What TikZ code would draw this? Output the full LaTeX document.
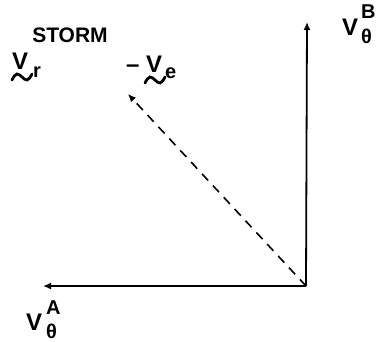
\documentclass[tikz,border=0pt]{standalone}
\usepackage{fontspec}
\setmainfont{Liberation Sans}
\usetikzlibrary{arrows.meta,positioning}
\tikzset{
  vecline/.style={-{Latex[length=8pt,width=7pt]},line width=1.8pt},
  dashline/.style={-{Latex[length=8pt,width=7pt]},line width=1.6pt,dash pattern=on 9pt off 7pt},
  bigtxt/.style={inner sep=0pt,anchor=base west,font=\fontsize{24}{24}\selectfont\bfseries},
  smalltxt/.style={inner sep=0pt,anchor=base west,font=\fontsize{20}{20}\selectfont\bfseries},
  squig/.style={line width=2.8pt,line cap=round},
}
\begin{document}
\begin{tikzpicture}[x=1pt,y=-1pt]
    \useasboundingbox (0,0) rectangle (377,341);
    % Axes
    \coordinate (o) at (306,286);
    \coordinate (btip) at (307,22);
    \coordinate (atip) at (43,286);
    \coordinate (etip) at (128,94);
    \draw[vecline] (o) -- (btip);
    \draw[vecline] (o) -- (atip);
    \draw[dashline] (o) -- (etip);

    % Storm label
    \node[inner sep=0pt,font=\fontsize{21}{21}\selectfont\bfseries] (storm) at (70,35) {STORM};

    % V_r
    \node[bigtxt] (vr) at (12,69) {V};
    \node[smalltxt] (vrsub) at (33,77) {r};
    \draw[squig] (12,80) sin (17,74) cos (22,77) sin (27,80) cos (32,74);

    % -V_e
    \node[bigtxt] (minus) at (126,72) {\textendash};
    \node[bigtxt] (ve) at (146,72) {V};
    \node[smalltxt] (vesub) at (165,78) {e};
    \draw[squig] (145,83) sin (150,77) cos (155,80) sin (160,83) cos (165,77);

    % V_theta^B
    \node[bigtxt] (vb) at (342,35) {V};
    \node[smalltxt] (vbsup) at (361,18) {B};
    \node[smalltxt] (vbsub) at (361,43) {θ};

    % V_theta^A
    \node[bigtxt] (va) at (26,330) {V};
    \node[smalltxt] (vasup) at (46,314) {A};
    \node[smalltxt] (vasub) at (46,338) {θ};
\end{tikzpicture}
\end{document}
